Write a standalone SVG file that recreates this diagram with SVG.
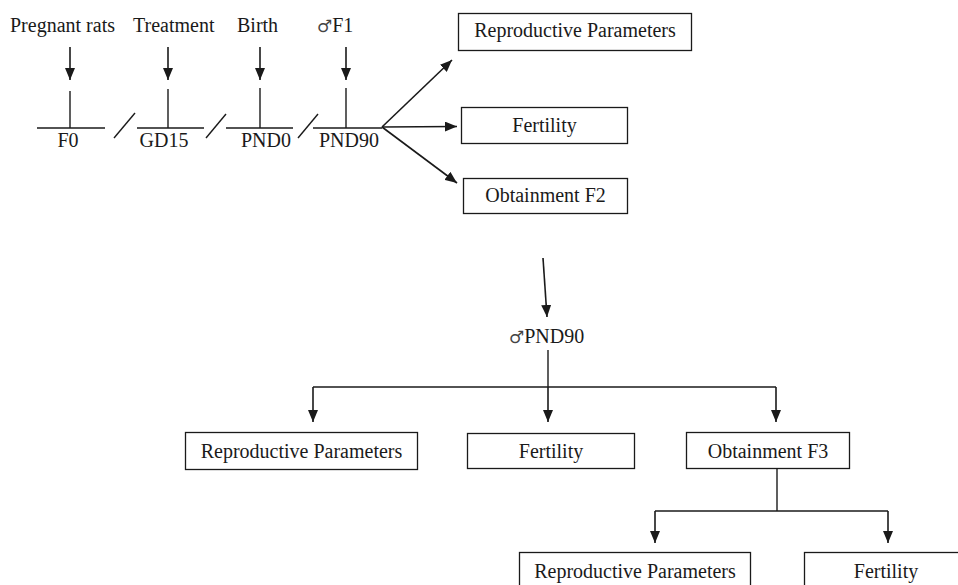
<svg xmlns="http://www.w3.org/2000/svg" width="958" height="585" viewBox="0 0 958 585">
<style>
text{font-family:"Liberation Serif","DejaVu Serif",serif;font-size:20px;fill:#1a1a1a}
.c{text-anchor:middle}
.m{font-family:"DejaVu Sans",sans-serif;font-size:17px;fill:#444}
.ln{stroke:#1a1a1a;stroke-width:1.4;fill:none}
.ar{stroke:#1a1a1a;stroke-width:1.6;fill:none;marker-end:url(#ah)}
.bx{fill:#fff;stroke:#1a1a1a;stroke-width:1.3}
</style>
<defs>
<marker id="ah" markerUnits="userSpaceOnUse" markerWidth="12" markerHeight="10" refX="12" refY="5" orient="auto">
<path d="M0,0 L12,5 L0,10 z" fill="#1a1a1a"/>
</marker>
</defs>
<rect width="958" height="585" fill="#fff"/>
<g id="timeline">
<text x="10" y="32">Pregnant rats</text>
<text x="133" y="32">Treatment</text>
<text x="237" y="32">Birth</text>
<text x="317" y="32"><tspan class="m">♂</tspan>F1</text>
<line class="ln" x1="37" y1="128" x2="105" y2="128"/>
<line class="ln" x1="137" y1="128" x2="204" y2="128"/>
<line class="ln" x1="226" y1="128" x2="293" y2="128"/>
<line class="ln" x1="313" y1="128" x2="382" y2="128"/>
<line class="ln" x1="70" y1="91" x2="70" y2="128"/>
<line class="ln" x1="168" y1="89" x2="168" y2="128"/>
<line class="ln" x1="260" y1="88" x2="260" y2="128"/>
<line class="ln" x1="346" y1="88" x2="346" y2="128"/>
<line class="ln" x1="114" y1="138" x2="135" y2="113"/>
<line class="ln" x1="206" y1="138" x2="226" y2="114"/>
<line class="ln" x1="298" y1="138" x2="318" y2="114"/>
<text class="c" x="68" y="147">F0</text>
<text class="c" x="164" y="147">GD15</text>
<text class="c" x="266" y="147">PND0</text>
<text class="c" x="349" y="147">PND90</text>
</g>
<g id="repro1"><rect class="bx" x="458.5" y="13.5" width="233" height="37"/><text class="c" x="575" y="37">Reproductive Parameters</text></g>
<g id="fert1"><rect class="bx" x="461.5" y="107.5" width="166" height="36"/><text class="c" x="544.5" y="132">Fertility</text></g>
<g id="obt2"><rect class="bx" x="463.5" y="178.5" width="164" height="35"/><text class="c" x="545.5" y="202">Obtainment F2</text></g>
<g id="pnd90"><text x="509" y="343"><tspan class="m">♂</tspan>PND90</text></g>
<g id="repro2"><rect class="bx" x="185.5" y="432.5" width="232" height="37"/><text class="c" x="301.5" y="458">Reproductive Parameters</text></g>
<g id="fert2"><rect class="bx" x="467.5" y="433.5" width="167" height="35"/><text class="c" x="551" y="458">Fertility</text></g>
<g id="obt3"><rect class="bx" x="686.5" y="432.5" width="163" height="36"/><text class="c" x="768" y="458">Obtainment F3</text></g>
<g id="repro3"><rect class="bx" x="519.5" y="552.5" width="231" height="40"/><text class="c" x="635" y="578">Reproductive Parameters</text></g>
<g id="fert3"><rect class="bx" x="804.5" y="552.5" width="170" height="40"/><text class="c" x="886" y="578">Fertility</text></g>
<g id="connectors">
<line class="ar" x1="70" y1="47" x2="70" y2="80"/>
<line class="ar" x1="168" y1="47" x2="168" y2="80"/>
<line class="ar" x1="260" y1="47" x2="260" y2="80"/>
<line class="ar" x1="346" y1="47" x2="346" y2="80"/>
<line class="ar" x1="382" y1="127" x2="452" y2="60"/>
<line class="ar" x1="382" y1="127" x2="457" y2="126.5"/>
<line class="ar" x1="382" y1="127" x2="457" y2="183"/>
<line class="ar" x1="543" y1="258" x2="547" y2="317"/>
<line class="ln" x1="548" y1="350" x2="548" y2="387"/>
<line class="ln" x1="313" y1="387" x2="776" y2="387"/>
<line class="ar" x1="313" y1="387" x2="313" y2="422"/>
<line class="ar" x1="548" y1="387" x2="548" y2="422"/>
<line class="ar" x1="776" y1="387" x2="776" y2="422"/>
<line class="ln" x1="777" y1="468" x2="777" y2="511"/>
<line class="ln" x1="655" y1="511" x2="888" y2="511"/>
<line class="ar" x1="655" y1="511" x2="655" y2="543"/>
<line class="ar" x1="888" y1="511" x2="888" y2="543"/>
</g>
</svg>
